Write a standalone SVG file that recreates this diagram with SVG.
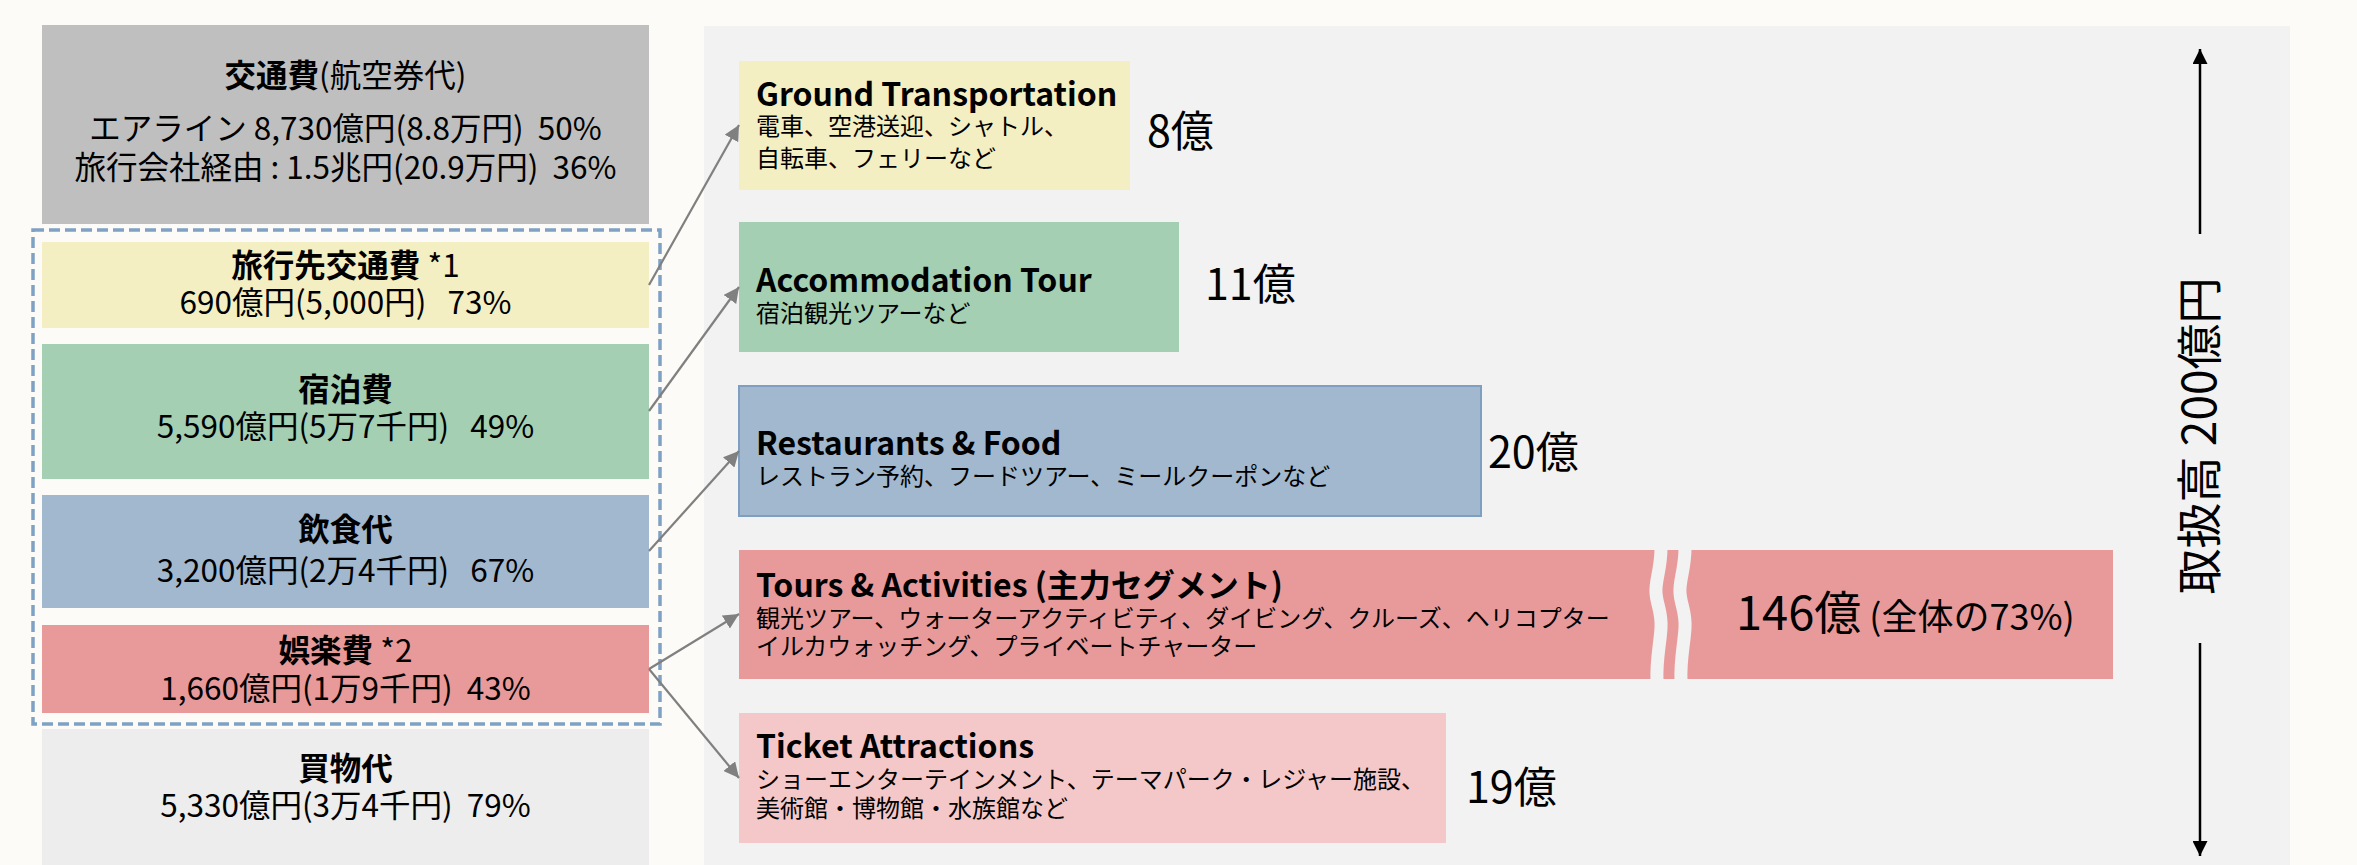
<svg xmlns="http://www.w3.org/2000/svg" width="2357" height="865" viewBox="0 0 2357 865">
<defs>
<style>
text{font-family:"Noto Sans CJK JP","Noto Sans",sans-serif;fill:#000}
.l{font-size:31.5px;text-anchor:middle}
.b{font-weight:bold}
.h{font-size:32px;font-weight:bold}
.s{font-size:24px}
.v{font-size:43px}
.con{stroke:#808080;stroke-width:2.2;fill:none;marker-end:url(#ah)}
.ax{stroke:#000;stroke-width:2.5;fill:none}
</style>
<marker id="ah" viewBox="0 0 10 10" refX="10" refY="5" markerWidth="7" markerHeight="7" orient="auto" markerUnits="strokeWidth">
<path d="M0,0 L10,5 L0,10 z" fill="#808080"/>
</marker>
<marker id="ax" viewBox="0 0 10 10" refX="10" refY="5" markerWidth="6" markerHeight="6" orient="auto" markerUnits="strokeWidth">
<path d="M0,0 L10,5 L0,10 z" fill="#000"/>
</marker>
</defs>
<rect x="0" y="0" width="2357" height="865" fill="#FCFBF7"/>
<rect id="panel" x="704" y="26" width="1586" height="839" fill="#F2F2F2"/>

<g id="airfare">
<rect x="42" y="25" width="607" height="199" fill="#BFBFBF"/>
<text class="l" x="345.5" y="87"><tspan class="b">交通費</tspan>(航空券代)</text>
<text class="l" x="345.5" y="140" xml:space="preserve">エアライン 8,730億円(8.8万円)  50%</text>
<text class="l" x="345.5" y="179" xml:space="preserve">旅行会社経由 : 1.5兆円(20.9万円)  36%</text>
</g>
<g id="local-transport">
<rect x="42" y="242" width="607" height="86" fill="#F3EFC3"/>
<text class="l" x="345.5" y="277"><tspan class="b">旅行先交通費</tspan> *1</text>
<text class="l" x="345.5" y="314" xml:space="preserve">690億円(5,000円)   73%</text>
</g>
<g id="lodging">
<rect x="42" y="344" width="607" height="135" fill="#A4CFB2"/>
<text class="l b" x="345.5" y="401">宿泊費</text>
<text class="l" x="345.5" y="438" xml:space="preserve">5,590億円(5万7千円)   49%</text>
</g>
<g id="food">
<rect x="42" y="495" width="607" height="113" fill="#A2B8CE"/>
<text class="l b" x="345.5" y="541">飲食代</text>
<text class="l" x="345.5" y="582" xml:space="preserve">3,200億円(2万4千円)   67%</text>
</g>
<g id="entertainment">
<rect x="42" y="625" width="607" height="88" fill="#E89A9A"/>
<text class="l" x="345.5" y="662"><tspan class="b">娯楽費</tspan> *2</text>
<text class="l" x="345.5" y="700" xml:space="preserve">1,660億円(1万9千円)  43%</text>
</g>
<g id="shopping">
<rect x="42" y="729" width="607" height="136" fill="#EDEDED"/>
<text class="l b" x="345.5" y="780">買物代</text>
<text class="l" x="345.5" y="817" xml:space="preserve">5,330億円(3万4千円)  79%</text>
</g>
<g id="group-box">
<rect x="33" y="230" width="627" height="494" fill="none" stroke="#7EA1C4" stroke-width="3.5" stroke-dasharray="11 5"/>
</g>

<g id="ground">
<rect x="739" y="61" width="391" height="129" fill="#F3EFC3"/>
<text class="h" x="756" y="106">Ground Transportation</text>
<text class="s" x="756" y="135">電車、空港送迎、シャトル、</text>
<text class="s" x="756" y="167">自転車、フェリーなど</text>
<text class="v" x="1147" y="147">8億</text>
</g>
<g id="accommodation">
<rect x="739" y="222" width="440" height="130" fill="#A4CFB2"/>
<text class="h" x="756" y="292">Accommodation Tour</text>
<text class="s" x="756" y="322">宿泊観光ツアーなど</text>
<text class="v" x="1205" y="300">11億</text>
</g>
<g id="restaurants">
<rect x="739" y="386" width="742" height="130" fill="#A2B8CE" stroke="#7F9FC0" stroke-width="2"/>
<text class="h" x="756" y="455">Restaurants &amp; Food</text>
<text class="s" x="756" y="485">レストラン予約、フードツアー、ミールクーポンなど</text>
<text class="v" x="1488" y="468">20億</text>
</g>
<g id="tours">
<rect x="739" y="550" width="1374" height="129" fill="#E89A9A"/>
<path d="M1661,548 C1661,570 1655,580 1656,593 C1657,606 1662,612 1661,628 C1660,645 1656,660 1657,682" stroke="#F2F2F2" stroke-width="13" fill="none"/>
<path d="M1685,548 C1685,570 1679,580 1680,593 C1681,606 1686,612 1685,628 C1684,645 1680,660 1681,682" stroke="#F2F2F2" stroke-width="13" fill="none"/>
<text class="h" x="756" y="597">Tours &amp; Activities (主力セグメント)</text>
<text class="s" x="756" y="627">観光ツアー、ウォーターアクティビティ、ダイビング、クルーズ、ヘリコプター</text>
<text class="s" x="756" y="655">イルカウォッチング、プライベートチャーター</text>
<text x="1736" y="630"><tspan font-size="47">146億</tspan><tspan font-size="36"> (全体の73%)</tspan></text>
</g>
<g id="tickets">
<rect x="739" y="713" width="707" height="130" fill="#F4C8C9"/>
<text class="h" x="756" y="758">Ticket Attractions</text>
<text class="s" x="756" y="788">ショーエンターテインメント、テーマパーク・レジャー施設、</text>
<text class="s" x="756" y="817">美術館・博物館・水族館など</text>
<text class="v" x="1466" y="803">19億</text>
</g>

<g id="connectors">
<line class="con" x1="649" y1="285" x2="739" y2="125"/>
<line class="con" x1="649" y1="411" x2="739" y2="287"/>
<line class="con" x1="649" y1="551" x2="739" y2="451"/>
<line class="con" x1="649" y1="669" x2="739" y2="614"/>
<line class="con" x1="649" y1="669" x2="739" y2="778"/>
</g>

<g id="scale">
<line class="ax" x1="2200" y1="234" x2="2200" y2="49" marker-end="url(#ax)"/>
<line class="ax" x1="2200" y1="643" x2="2200" y2="856" marker-end="url(#ax)"/>
<text x="2216" y="436" font-size="46" text-anchor="middle" transform="rotate(-90 2216 436)">取扱高 200億円</text>
</g>
</svg>
